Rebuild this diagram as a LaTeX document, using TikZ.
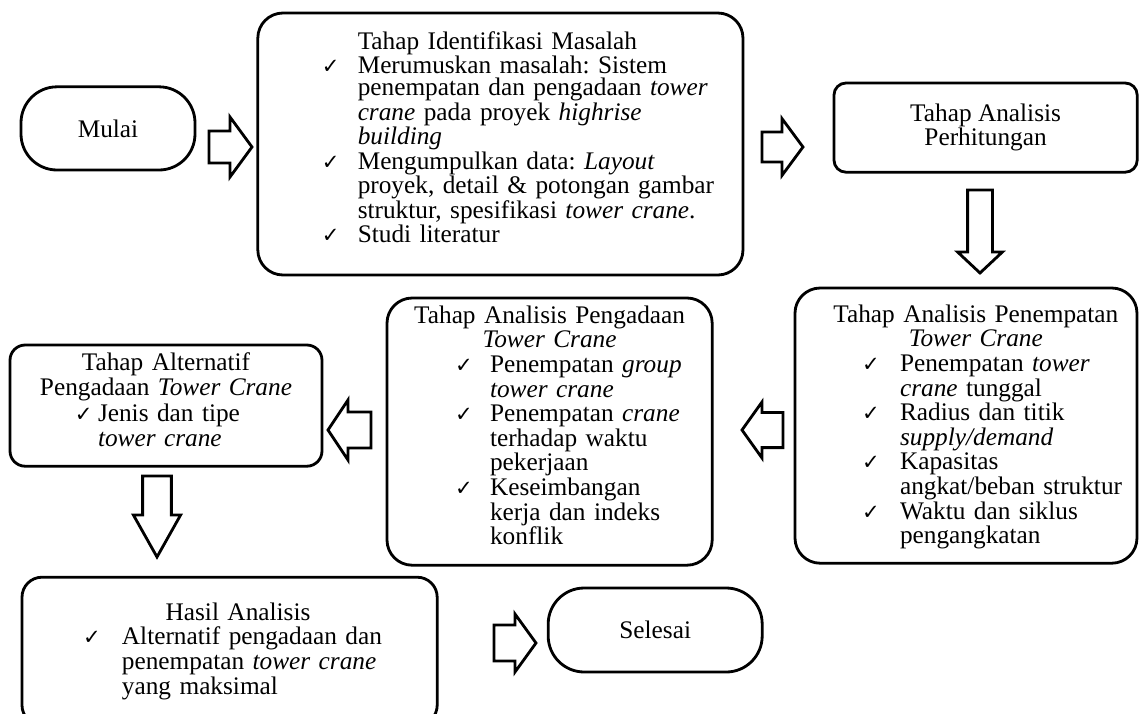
\documentclass[tikz,border=0pt]{standalone}
\usepackage{fontspec}
\setmainfont{Liberation Serif}
\newfontfamily\symb{DejaVu Sans}
\usetikzlibrary{calc}

\setlength{\parindent}{0pt}
\setlength{\lineskiplimit}{-20pt}
\frenchspacing
\newlength{\ckw}
% check mark in front of an item, then the item text
\newcommand{\ck}{\makebox[\ckw][l]{\symb\fontsize{15}{15}\selectfont ✓}}
% a centred title line (optional shift to the right)
\newcommand{\ttl}[2][0pt]{\makebox[\linewidth][c]{\hspace*{#1}#2}\par}
% extra depth on the last line, lifts the text block inside its box
\newcommand{\lift}[1]{\rule[-#1]{0pt}{0pt}}

\tikzset{
  stepbox/.style={draw, line width=2pt, rounded corners=0.63cm, inner xsep=0pt, inner ysep=0pt,
    align=left, font=\fontsize{18}{17.5}\selectfont},
  termbox/.style={draw, line width=2pt, rounded corners=0.9cm, font=\fontsize{18}{17.5}\selectfont},
  % hollow block arrow, tip at the origin, pointing to the right
  % length / head length / head half width / shaft half width
  pics/blockarr/.style args={#1/#2/#3/#4}{code={
    \draw[line width=2pt, line join=miter] (0,0) -- (-#2,-#3) -- (-#2,-#4) -- (-#1,-#4)
      -- (-#1,#4) -- (-#2,#4) -- (-#2,#3) -- cycle;
  }},
}

\begin{document}
\begin{tikzpicture}[x=1cm, y=-1cm]

    % Page size of the reference
    \useasboundingbox (0,0) rectangle (28.475,17.825);

    % Start
    \node[termbox, minimum width=4.35cm, minimum height=2.08cm] (mulai) at (2.70,3.21) {Mulai};

    % Problem identification
    \node[stepbox, text width=12.13cm, minimum height=6.55cm] (ident) at (12.51,3.60) {%
      \baselineskip=16pt\setlength{\ckw}{25.6pt}\leftskip=45.5pt
      \hspace*{\ckw}Tahap Identifikasi Masalah\\
      \ck Merumuskan masalah: Sistem\\
      \hspace*{\ckw}penempatan dan pengadaan \textit{tower}\\
      \hspace*{\ckw}\textit{crane} pada proyek \textit{highrise}\\
      \hspace*{\ckw}\textit{building}\\
      \ck Mengumpulkan data: \textit{Layout}\\
      \hspace*{\ckw}proyek, detail \& potongan gambar\\
      \hspace*{\ckw}struktur, spesifikasi \textit{tower crane}.\\
      \ck Studi literatur\lift{10pt}\par};

    % Calculation
    \node[stepbox, rounded corners=0.3cm, minimum width=7.58cm, minimum height=2.23cm, align=center]
      (perhit) at (24.64,3.19) {Tahap Analisis\\Perhitungan};

    % Placement analysis
    \node[stepbox, text width=8.55cm, minimum height=6.88cm] (penemp) at (24.15,10.64) {%
      \setlength{\ckw}{27pt}
      \ttl[14pt]{Tahap Analisis Penempatan}
      \ttl[14pt]{\textit{Tower Crane}}
      \leftskip=47.7pt
      \ck Penempatan \textit{tower}\\
      \hspace*{\ckw}\textit{crane} tunggal\\
      \ck Radius dan titik\\
      \hspace*{\ckw}\textit{supply/demand}\\
      \ck Kapasitas\\
      \hspace*{\ckw}angkat/beban struktur\\
      \ck Waktu dan siklus\\
      \hspace*{\ckw}pengangkatan\lift{7pt}\par};

    % Procurement analysis
    \node[stepbox, text width=8.13cm, minimum height=6.68cm] (pengad) at (13.74,10.79) {%
      \setlength{\ckw}{24.9pt}
      \ttl{Tahap Analisis Pengadaan}
      \ttl{\textit{Tower Crane}}
      \leftskip=48.4pt
      \ck Penempatan \textit{group}\\
      \hspace*{\ckw}\textit{tower crane}\\
      \ck Penempatan \textit{crane}\\
      \hspace*{\ckw}terhadap waktu\\
      \hspace*{\ckw}pekerjaan\\
      \ck Keseimbangan\\
      \hspace*{\ckw}kerja dan indeks\\
      \hspace*{\ckw}konflik\lift{14pt}\par};

    % Alternatives
    \node[stepbox, rounded corners=0.38cm, text width=7.8cm, minimum height=3.03cm] (altern) at (4.15,10.14) {%
      \baselineskip=18pt\setlength{\ckw}{16.4pt}
      \ttl{Tahap Alternatif}
      \ttl{Pengadaan \textit{Tower Crane}}
      \leftskip=46.2pt
      \ck Jenis dan tipe\\
      \hspace*{\ckw}\textit{tower crane}\lift{14pt}\par};

    % Result
    \node[stepbox, rounded corners=0.5cm, text width=10.38cm, minimum height=3.7cm] (hasil) at (5.74,16.28) {%
      \setlength{\ckw}{27.7pt}
      \ttl{Hasil Analisis}
      \leftskip=43.4pt
      \ck Alternatif pengadaan dan\\
      \hspace*{\ckw}penempatan \textit{tower crane}\\
      \hspace*{\ckw}yang maksimal\par};

    % End
    \node[termbox, minimum width=5.35cm, minimum height=2.1cm] (selesai) at (16.38,15.75) {Selesai};

    % Block arrows between the steps
    \pic at (6.30,3.675) {blockarr={1.075/0.55/0.75/0.40}};
    \pic at (20.075,3.675) {blockarr={1.025/0.525/0.71/0.375}};
    \pic[rotate=-90] at (24.5,6.825) {blockarr={2.075/0.525/0.56/0.31}};
    \pic[rotate=180] at (18.55,10.75) {blockarr={1.025/0.5/0.7/0.44}};
    \pic[rotate=180] at (8.2,10.75) {blockarr={1.075/0.5/0.75/0.45}};
    \pic[rotate=-90] at (3.925,13.925) {blockarr={2.025/1.05/0.59/0.36}};
    \pic at (13.4,16.075) {blockarr={1.05/0.525/0.725/0.45}};

\end{tikzpicture}
\end{document}
